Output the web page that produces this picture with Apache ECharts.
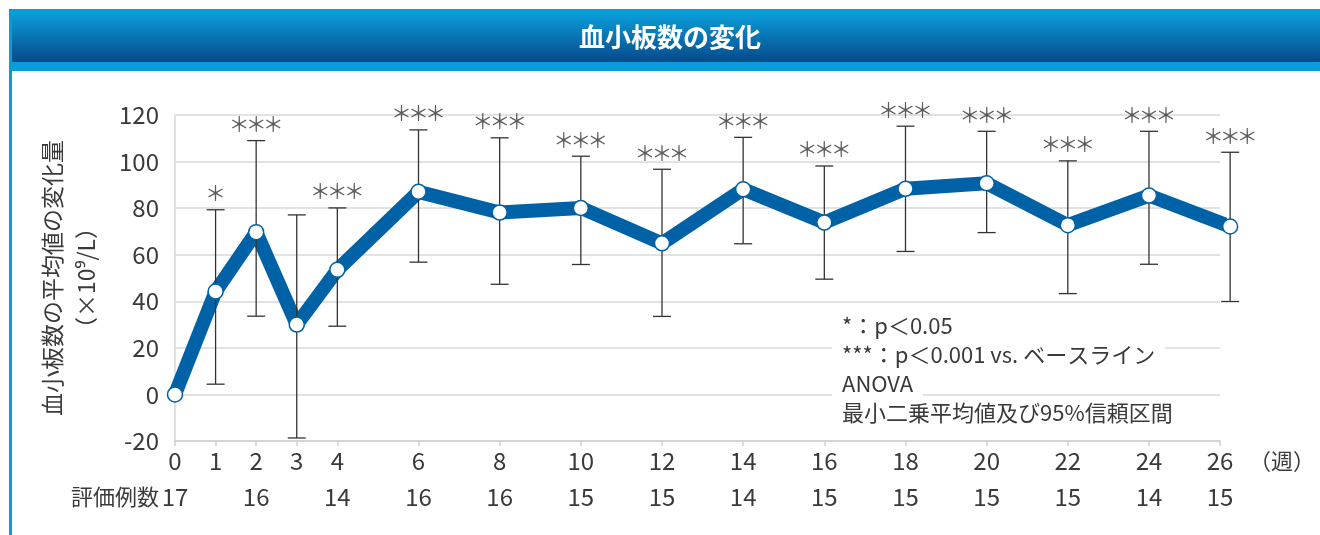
<!DOCTYPE html>
<html>
<head>
<meta charset="utf-8">
<script src="https://cdn.jsdelivr.net/npm/echarts@6/dist/echarts.min.js"></script>
<style>
  html, body { margin: 0; padding: 0; background: #fff; }
  #chart { width: 1320px; height: 535px; }
</style>
</head>
<body>
<div id="chart"></div>
<script>
// 週ごとの血小板数の変化量（最小二乗平均値と95%信頼区間）
const weeks = [0, 1, 2, 3, 4, 6, 8, 10, 12, 14, 16, 18, 20, 22, 24, 26];
const meanChange = [0, 44.2, 69.7, 30.0, 53.5, 87.0, 78.1, 80.1, 64.9, 88.1, 73.8, 88.3, 90.7, 72.7, 85.4, 72.1];
const ciUpper = [null, 79.3, 109.0, 77.1, 80.1, 113.6, 110.2, 102.3, 96.7, 110.4, 98.1, 115.2, 113.0, 100.3, 113.0, 104.0];
const ciLower = [null, 4.4, 33.6, -18.7, 29.3, 56.8, 47.3, 55.8, 33.5, 64.7, 49.5, 61.4, 69.5, 43.3, 55.9, 39.9];
const signif = ['', '*', '***', '', '***', '***', '***', '***', '***', '***', '***', '***', '***', '***', '***', '***'];
const nEvaluated = [17, null, 16, null, 14, 16, 16, 15, 15, 14, 15, 15, 15, 15, 14, 15];
const notes = ['*：p＜0.05', '***：p＜0.001 vs. ベースライン', 'ANOVA', '最小二乗平均値及び95%信頼区間'];

const FONT = '"Noto Sans CJK JP", "Noto Sans", sans-serif';
const TEXT = '#3a3a3a';
const BLUE = '#0062a6';
const GRID = '#d9d9d9';

// 軸は26週の少し手前で終わる（元図のとおり）
const axisEnd = 25.75;
const tickPos = weeks.map((w) => Math.min(w, axisEnd));

const chart = echarts.init(document.getElementById('chart'));

function renderErrorBar(params, api) {
  const x = api.value(0);
  const lo = api.coord([x, api.value(1)]);
  const hi = api.coord([x, api.value(2)]);
  const half = 9;
  const style = { stroke: '#333', lineWidth: 1.3 };
  return {
    type: 'group',
    children: [
      { type: 'line', shape: { x1: lo[0], y1: lo[1], x2: hi[0], y2: hi[1] }, style: style },
      { type: 'line', shape: { x1: hi[0] - half, y1: hi[1], x2: hi[0] + half, y2: hi[1] }, style: style },
      { type: 'line', shape: { x1: lo[0] - half, y1: lo[1], x2: lo[0] + half, y2: lo[1] }, style: style },
    ],
  };
}

const points = weeks.map((w, i) => [w, meanChange[i]]);
const errorData = [];
const starData = [];
weeks.forEach((w, i) => {
  if (ciUpper[i] != null) errorData.push([w, ciLower[i], ciUpper[i]]);
  if (signif[i]) starData.push({ value: [w, ciUpper[i]], mark: signif[i] });
});

const noteGraphics = notes.map((t, i) => ({
  type: 'text',
  left: 832,
  top: 313 + i * 29,
  z: 10,
  style: {
    text: t,
    font: '22px ' + FONT,
    fill: TEXT,
    backgroundColor: '#fff',
    padding: [2, 10, 2, 10],
  },
}));

const option = {
  animation: false,
  textStyle: { fontFamily: FONT },
  grid: { left: 175, right: 100, top: 115, bottom: 94, containLabel: false },
  xAxis: {
    type: 'value',
    min: 0,
    max: axisEnd,
    axisLine: { show: true, onZero: false, lineStyle: { color: '#d0d0d0', width: 1.5 } },
    axisTick: { show: true, customValues: tickPos, length: 5, lineStyle: { color: '#d0d0d0', width: 1.5 } },
    splitLine: { show: false },
    axisLabel: {
      customValues: tickPos,
      margin: 2,
      formatter: function (v) {
        const i = tickPos.indexOf(v);
        if (i < 0) return '';
        let s = '{w|' + weeks[i] + '}';
        if (nEvaluated[i] != null) s += '\n{n|' + nEvaluated[i] + '}';
        return s;
      },
      rich: {
        w: { fontSize: 24, lineHeight: 36, color: TEXT, fontFamily: FONT },
        n: { fontSize: 24, lineHeight: 36, color: TEXT, fontFamily: FONT },
      },
    },
    name: '（週）',
    nameLocation: 'end',
    nameGap: 29,
    nameTextStyle: {
      fontSize: 22,
      color: TEXT,
      verticalAlign: 'top',
      lineHeight: 36,
      padding: [2, 0, 0, 0],
    },
  },
  yAxis: {
    type: 'value',
    min: -20,
    max: 120,
    interval: 20,
    axisLine: { show: true, lineStyle: { color: GRID, width: 1.5 } },
    axisTick: { show: false },
    splitLine: { lineStyle: { color: GRID, width: 1.5 } },
    axisLabel: { fontSize: 24, color: TEXT, margin: 16 },
    name: '血小板数の平均値の変化量\n（×10⁹/L）',
    nameLocation: 'middle',
    nameRotate: 90,
    nameGap: 72,
    nameTextStyle: { fontSize: 23, color: TEXT, lineHeight: 34 },
  },
  graphic: [
    { type: 'rect', shape: { x: 9, y: 9, width: 1311, height: 62 }, style: { fill: '#079cda' } },
    {
      type: 'rect',
      shape: { x: 12, y: 12, width: 1308, height: 50 },
      style: {
        fill: new echarts.graphic.LinearGradient(0, 0, 0, 1, [
          { offset: 0, color: '#0aa0dc' },
          { offset: 1, color: '#06498a' },
        ]),
      },
    },
    { type: 'rect', shape: { x: 9, y: 9, width: 3, height: 526 }, style: { fill: '#079cda' } },
    {
      type: 'text',
      x: 670,
      y: 37,
      style: {
        text: '血小板数の変化',
        font: 'bold 26px ' + FONT,
        fill: '#fff',
        align: 'center',
        verticalAlign: 'middle',
      },
    },
    {
      type: 'text',
      x: 71,
      y: 497,
      style: { text: '評価例数', font: '22px ' + FONT, fill: TEXT, verticalAlign: 'middle' },
    },
  ].concat(noteGraphics),
  series: [
    {
      type: 'line',
      data: points,
      showSymbol: false,
      clip: false,
      z: 2,
      lineStyle: { color: BLUE, width: 14 },
    },
    {
      type: 'custom',
      data: errorData,
      renderItem: renderErrorBar,
      clip: false,
      z: 3,
    },
    {
      type: 'scatter',
      data: points,
      symbol: 'circle',
      symbolSize: 15,
      clip: false,
      z: 4,
      itemStyle: { color: '#fff', borderColor: BLUE, borderWidth: 1.5, opacity: 1 },
    },
    {
      type: 'scatter',
      data: starData,
      symbolSize: 0,
      clip: false,
      z: 5,
      label: {
        show: true,
        position: 'top',
        distance: 6,
        formatter: function (p) {
          // 星印1つずつを幅17pxに詰めて描く
          return p.data.mark.split('').map(() => '{s|＊}').join('');
        },
        rich: {
          s: { fontSize: 21, lineHeight: 21, width: 17, align: 'center', color: '#333', fontFamily: FONT },
        },
      },
    },
  ],
};

chart.setOption(option);
</script>
</body>
</html>
